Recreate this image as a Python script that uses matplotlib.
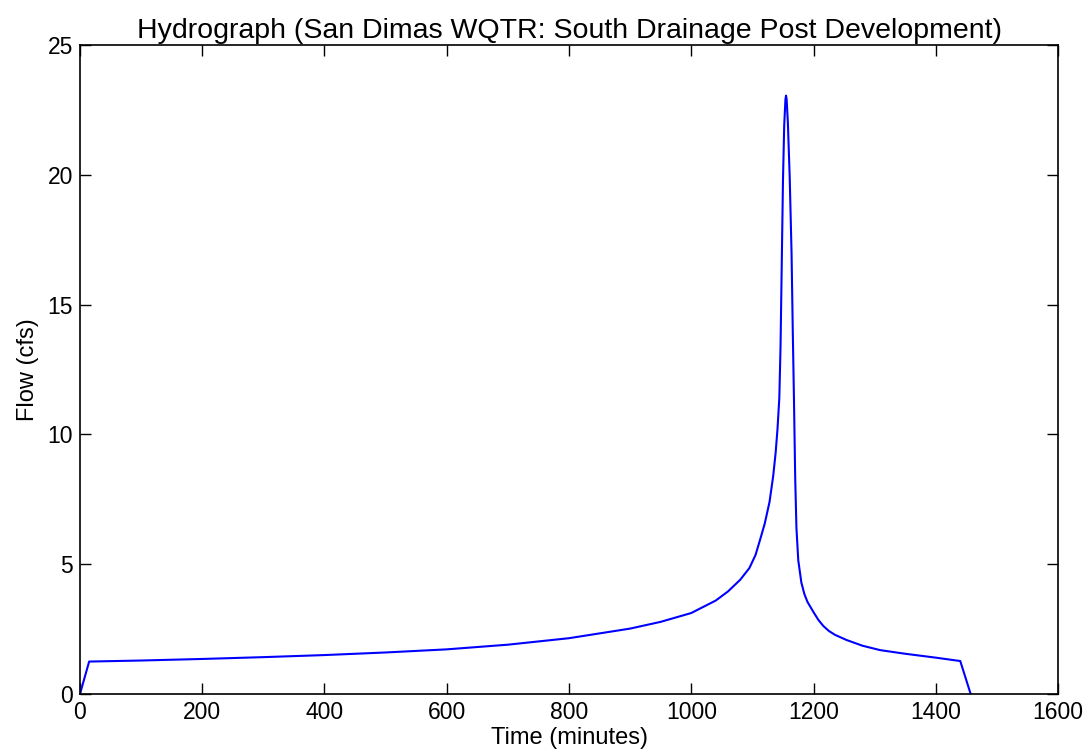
import matplotlib
matplotlib.use("Agg")
import matplotlib.pyplot as plt

time_min = [0, 15, 100, 200, 300, 400, 500, 600, 700, 800, 900, 950, 1000, 1040,
            1060, 1080, 1095, 1105, 1112, 1120, 1128, 1134, 1138, 1141, 1144, 1146,
            1148, 1150, 1152, 1154, 1155, 1156, 1158, 1161, 1164, 1166, 1168,
            1170, 1172, 1175, 1180, 1185, 1190, 1200, 1208, 1216, 1225, 1235,
            1254, 1280, 1309, 1350, 1400, 1440, 1457]
flow_cfs = [0, 1.25, 1.29, 1.35, 1.42, 1.50, 1.60, 1.72, 1.90, 2.15, 2.52, 2.78,
            3.12, 3.60, 3.95, 4.40, 4.85, 5.35, 5.90, 6.55, 7.40, 8.40, 9.30, 10.2,
            11.4, 13.4, 16.6, 19.8, 21.9, 22.9, 23.05, 22.9, 22.0, 19.9, 17.0,
            14.0, 11.3, 8.3, 6.4, 5.15, 4.30, 3.85, 3.55, 3.15, 2.85, 2.62,
            2.43, 2.28, 2.08, 1.86, 1.69, 1.55, 1.40, 1.27, 0]

xticks = [0, 200, 400, 600, 800, 1000, 1200, 1400, 1600]
yticks = [0, 5, 10, 15, 20, 25]

plt.rcParams['font.family'] = ['Liberation Sans', 'DejaVu Sans']

fig = plt.figure(figsize=(10.88, 7.56), dpi=100)
ax = fig.add_axes([0.0735, 0.082, 0.899, 0.8585])
ax.plot(time_min, flow_cfs, color='blue', linewidth=1.5)

ax.set_xlim(0, 1600)
ax.set_ylim(0, 25)
ax.set_xticks(xticks)
ax.set_yticks(yticks)
ax.tick_params(direction='in', length=8, width=1, top=True, right=True,
               labelsize=16.5, pad=5)
for s in ax.spines.values():
    s.set_linewidth(1.2)

ax.set_title("Hydrograph (San Dimas WQTR: South Drainage Post Development)",
             fontsize=20.5, pad=5)
ax.set_xlabel("Time (minutes)", fontsize=17, labelpad=2)
ax.set_ylabel("Flow (cfs)", fontsize=17, labelpad=6)

fig.savefig("out.png", dpi=100)
